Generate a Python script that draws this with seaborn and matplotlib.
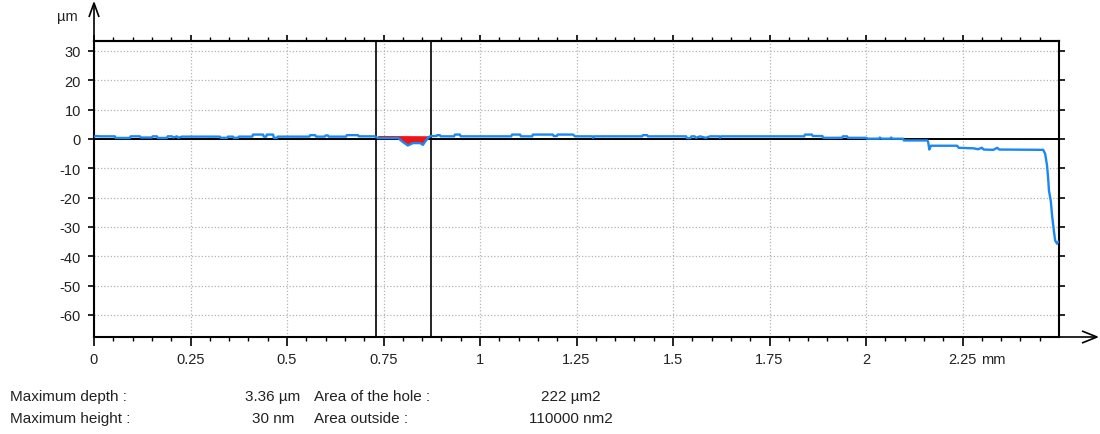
import numpy as np
import pandas as pd
import matplotlib
matplotlib.use("Agg")
import matplotlib.pyplot as plt
import seaborn as sns

# ---- profile data (position in mm, height in µm) ----
max_depth_um = 3.36
cursor_mm = [0.730, 0.872]          # measurement cursors bounding the hole
cursor_ref_um = [1.20, 1.10]        # reference line height at each cursor

profile_x_mm = [
    0.000, 0.005, 0.016, 0.054, 0.056, 0.093, 0.095, 0.119, 0.121, 0.150,
    0.152, 0.163, 0.165, 0.189, 0.191, 0.202, 0.205, 0.215, 0.218, 0.228,
    0.326, 0.328, 0.345, 0.347, 0.360, 0.362, 0.373, 0.375, 0.410, 0.412,
    0.438, 0.440, 0.446, 0.448, 0.464, 0.466, 0.474, 0.476, 0.558, 0.560,
    0.573, 0.575, 0.598, 0.600, 0.606, 0.608, 0.653, 0.655, 0.684, 0.686,
    0.728, 0.735, 0.788, 0.800, 0.813, 0.826, 0.845, 0.852, 0.860, 0.868,
    0.872, 0.887, 0.889, 0.896, 0.898, 0.933, 0.935, 0.948, 0.950, 1.081,
    1.083, 1.104, 1.106, 1.135, 1.137, 1.189, 1.191, 1.199, 1.201, 1.241,
    1.246, 1.291, 1.293, 1.296, 1.420, 1.422, 1.433, 1.435, 1.534, 1.536,
    1.545, 1.548, 1.556, 1.560, 1.570, 1.585, 1.596, 1.620, 1.622, 1.625,
    1.840, 1.842, 1.860, 1.862, 1.887, 1.889, 1.938, 1.940, 1.951, 1.953,
    2.001, 2.003, 2.034, 2.036, 2.040, 2.063, 2.065, 2.068, 2.096, 2.098,
    2.159, 2.161, 2.164, 2.168, 2.236, 2.240, 2.280, 2.290, 2.300, 2.305,
    2.330, 2.340, 2.345, 2.459, 2.464, 2.469, 2.472, 2.474, 2.479, 2.482,
    2.487, 2.490, 2.495, 2.498,
]
profile_z_um = [
    0.8, 1.0, 0.9, 0.9, 0.35, 0.35, 0.9, 0.9, 0.5, 0.5,
    0.9, 0.9, 0.35, 0.35, 0.9, 0.9, 0.5, 0.9, 0.4, 0.8,
    0.8, 0.4, 0.4, 0.8, 0.8, 0.4, 0.4, 0.8, 0.8, 1.5,
    1.5, 0.8, 0.8, 1.5, 1.5, 0.4, 0.4, 0.8, 0.8, 1.3,
    1.3, 0.8, 0.8, 1.2, 1.2, 0.8, 0.8, 1.3, 1.3, 0.9,
    0.9, 0.3, 0.3, -1.0, None, -1.4, -1.4, -2.0, -0.5, 0.7,
    1.0, 1.0, 1.3, 1.3, 0.9, 0.9, 1.5, 1.5, 0.9, 0.9,
    1.5, 1.5, 0.9, 0.9, 1.5, 1.5, 1.0, 1.0, 1.5, 1.5,
    0.9, 0.9, 0.4, 0.9, 0.9, 1.3, 1.3, 0.9, 0.9, 0.3,
    0.3, 0.9, 0.9, 0.4, 0.9, 0.4, 0.9, 0.9, 0.4, 0.9,
    0.9, 1.5, 1.5, 1.0, 1.0, 0.4, 0.4, 0.9, 0.9, 0.4,
    0.4, 0.1, 0.1, 0.5, 0.1, 0.1, 0.5, 0.1, 0.1, -0.5,
    -0.5, -1.0, -3.6, -2.3, -2.3, -3.0, -3.2, -3.5, -3.0, -3.6,
    -3.7, -3.0, -3.6, -3.7, -5.0, -9.0, -13.6, -17.6, -21.4, -26.0,
    -31.6, -34.6, -35.7, -35.0,
]

x_ticks = [0, 0.25, 0.5, 0.75, 1, 1.25, 1.5, 1.75, 2, 2.25]
x_tick_labels = ["0", "0.25", "0.5", "0.75", "1", "1.25", "1.5", "1.75", "2", "2.25"]
y_ticks = [30, 20, 10, 0, -10, -20, -30, -40, -50, -60]

stat_names_left = ["Maximum depth :", "Maximum height :"]
stat_values_left = ["3.36 µm", "30 nm"]
stat_names_right = ["Area of the hole :", "Area outside :"]
stat_values_right = ["222 µm2", "110000 nm2"]

# ---- assemble profile; deepest point of the hole sits max_depth below the reference ----
x = np.array(profile_x_mm, dtype=float)
ref_line = np.interp(x, cursor_mm, cursor_ref_um)
z = np.array([ref_line[i] - max_depth_um if v is None else v
              for i, v in enumerate(profile_z_um)], dtype=float)
df = pd.DataFrame({"x": x, "z": z})

sns.set_theme(style="white")
plt.rcParams["font.family"] = ["Liberation Sans", "DejaVu Sans"]
plt.rcParams["axes.linewidth"] = 1.5
plt.rcParams["axes.unicode_minus"] = False

W, H = 1100, 435
fig = plt.figure(figsize=(W / 100, H / 100), dpi=100)
ax_l, ax_r, ax_t, ax_b = 94, 1059, 42, 338
ax = fig.add_axes([ax_l / W, 1 - ax_b / H, (ax_r - ax_l) / W, (ax_b - ax_t) / H])
ax.set_facecolor("white")

ax.set_xlim(0, 2.5)
ax.set_ylim(-67.5, 33.4)

# grid
ax.set_xticks(x_ticks)
ax.set_xticks(np.arange(0, 2.5, 0.05), minor=True)
ax.set_yticks(y_ticks)
ax.grid(True, which="major", linestyle=(0, (1, 1.6)), color="#b4b4b4", lw=0.9)

# zero line and cursors
ax.axhline(0, color="black", lw=1.4, zorder=2)
for c in cursor_mm:
    ax.axvline(c, color="black", lw=1.2, zorder=2)

# hole area (between the reference line and the profile)
hm = (x >= cursor_mm[0]) & (x <= cursor_mm[1])
ax.fill_between(x[hm], ref_line[hm], z[hm], where=z[hm] < ref_line[hm],
                interpolate=True, color="#f01414", lw=0, zorder=3)

# profile
sns.lineplot(data=df, x="x", y="z", ax=ax, sort=False, estimator=None,
             color="#1a88f2", lw=1.7, zorder=4)
ax.set_xlabel("")
ax.set_ylabel("")

# ticks and labels
tick_fs = 10.5
ax.set_xticklabels(x_tick_labels)
ax.tick_params(axis="x", which="major", direction="out", length=6.5, width=1.2,
               pad=4.3, labelsize=tick_fs, colors="black", bottom=True, top=False)
ax.tick_params(axis="x", which="minor", direction="out", length=3, width=1.0,
               bottom=True, top=False, colors="black")
ax.tick_params(axis="y", which="major", direction="out", length=4.5, width=1.2,
               pad=5, labelsize=tick_fs, left=True, right=True, colors="black")
for lab in ax.get_yticklabels() + ax.get_xticklabels():
    lab.set_color("#222222")

top = ax.secondary_xaxis("top")
top.set_xticks(x_ticks)
top.set_xticks(np.arange(0, 2.5, 0.05), minor=True)
top.tick_params(axis="x", which="major", direction="out", length=4, width=1.2,
                labeltop=False, colors="black")
top.tick_params(axis="x", which="minor", direction="out", length=2.6, width=1.0,
                colors="black")
top.spines["top"].set_linewidth(1.5)

for s in ax.spines.values():
    s.set_color("black")
    s.set_linewidth(1.5)

# unit after the last x label
ax.annotate("mm", xy=(2.25, 0), xycoords=("data", "axes fraction"),
            xytext=(13.2, -(6.5 + 4.3)), textcoords="offset points",
            ha="left", va="top", fontsize=tick_fs, color="#222222")

# axis arrows
aw, ah = ax_r - ax_l, ax_b - ax_t
arrow_kw = dict(transform=ax.transAxes, clip_on=False, color="black", lw=1.2,
                solid_capstyle="butt")
ax.plot([0, 0], [1, 1 + 37 / ah], **arrow_kw)
ax.plot([-5 / aw, 0, 5 / aw], [1 + 24 / ah, 1 + 38 / ah, 1 + 24 / ah], **arrow_kw)
ax.plot([1, 1 + 37 / aw], [0, 0], **arrow_kw)
ax.plot([1 + 23 / aw, 1 + 38 / aw, 1 + 23 / aw], [6 / ah, 0, -6 / ah], **arrow_kw)
ax.text(-27 / aw, (ax_b - 17) / ah, "µm", transform=ax.transAxes,
        ha="center", va="center", fontsize=10.5, color="#222222")

# measurement summary
rows_y = [401, 423.5]
for i in range(2):
    yy = 1 - rows_y[i] / H
    fig.text(10.5 / W, yy, stat_names_left[i], ha="left", va="baseline",
             fontsize=11, color="#222222")
    fig.text(273 / W, yy, stat_values_left[i], ha="center", va="baseline",
             fontsize=11, color="#222222")
    fig.text(313.5 / W, yy, stat_names_right[i], ha="left", va="baseline",
             fontsize=11, color="#222222")
    fig.text(571 / W, yy, stat_values_right[i], ha="center", va="baseline",
             fontsize=11, color="#222222")

fig.savefig("out.png", dpi=100, facecolor="white")
